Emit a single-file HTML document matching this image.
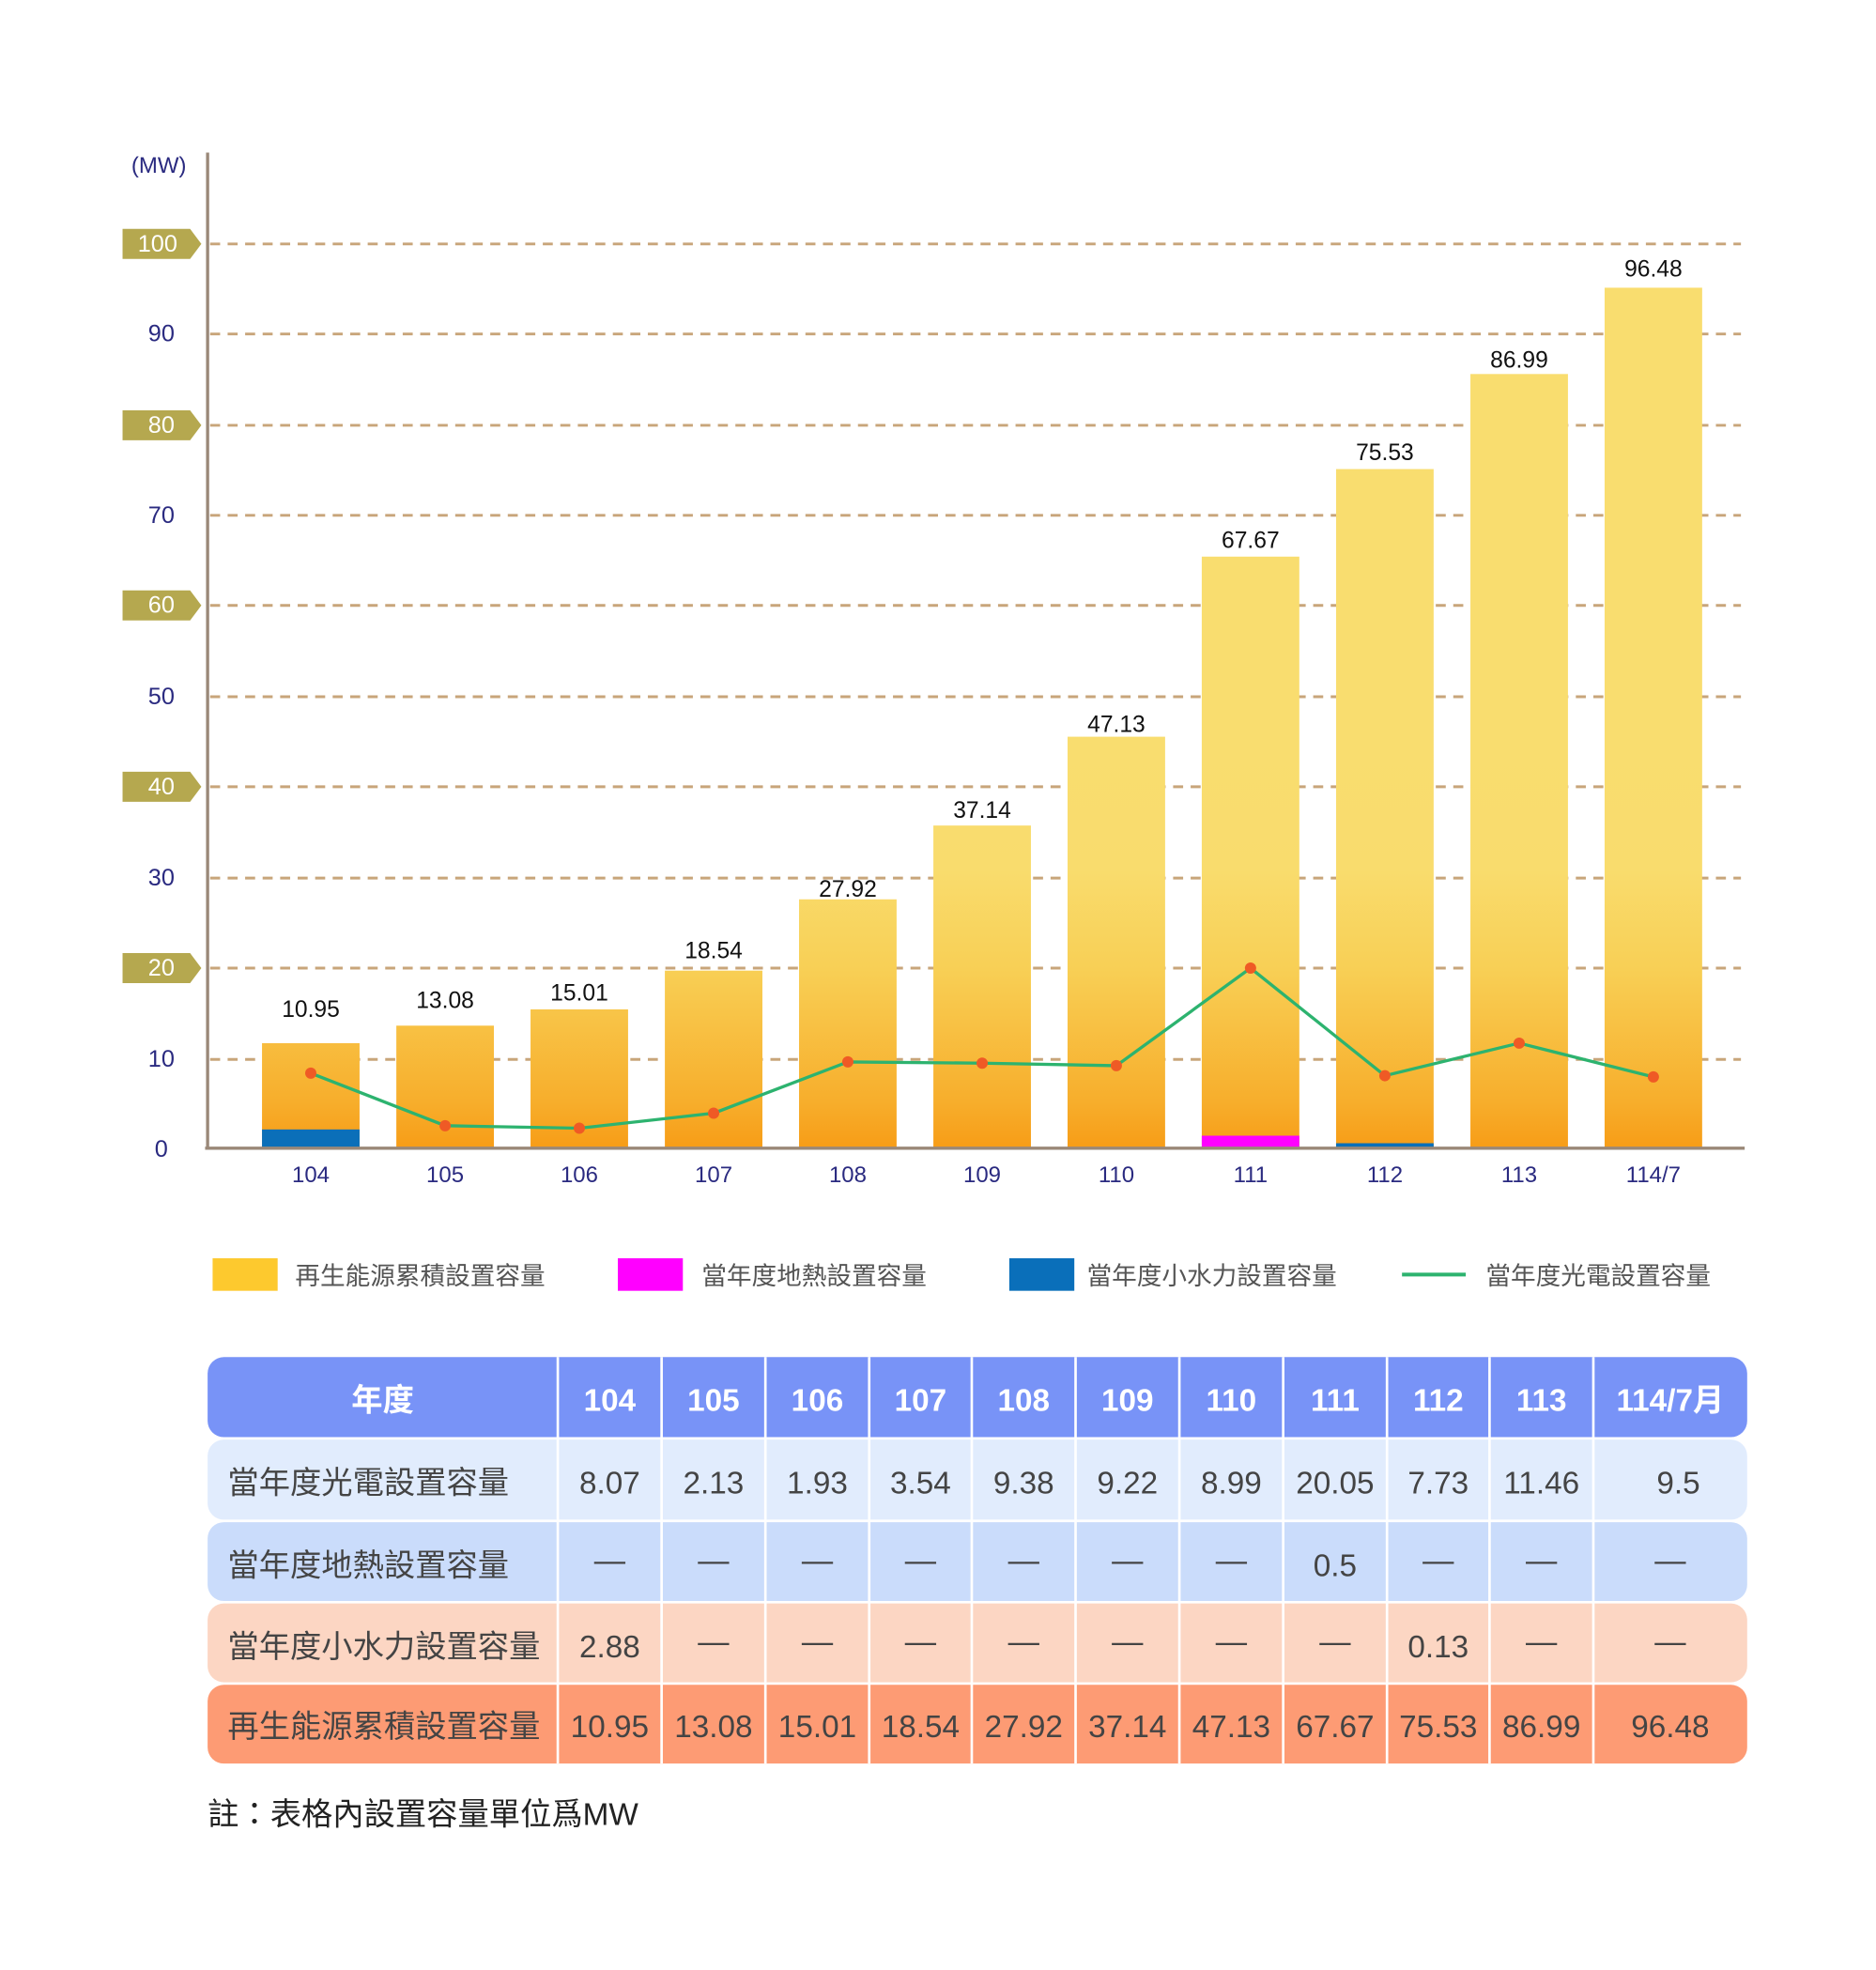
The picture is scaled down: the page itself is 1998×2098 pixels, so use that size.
<!DOCTYPE html>
<html><head><meta charset="utf-8"><style>
html,body{margin:0;padding:0;background:#fff;}
svg{display:block;}
</style></head><body>
<svg width="1998" height="2098" viewBox="0 0 1500 1575" xmlns="http://www.w3.org/2000/svg">
<defs>
<linearGradient id="bg" gradientUnits="userSpaceOnUse" x1="0" y1="919" x2="0" y2="600">
<stop offset="0" stop-color="#f79c16"/>
<stop offset="0.12" stop-color="#f7ae2c"/>
<stop offset="0.45" stop-color="#f8cf55"/>
<stop offset="0.7" stop-color="#f9dc6d"/>
<stop offset="1" stop-color="#f9dd6f"/>
</linearGradient>
</defs>
<g font-family="Liberation Sans, sans-serif">
<text x="127" y="138" font-size="18" fill="#2a2a80" text-anchor="middle">(MW)</text>
<g stroke="#c8a57a" stroke-width="2.2" stroke-dasharray="8,6">
<line x1="168" y1="195" x2="1392" y2="195"/>
<line x1="168" y1="267" x2="1392" y2="267"/>
<line x1="168" y1="340" x2="1392" y2="340"/>
<line x1="168" y1="412" x2="1392" y2="412"/>
<line x1="168" y1="484" x2="1392" y2="484"/>
<line x1="168" y1="557" x2="1392" y2="557"/>
<line x1="168" y1="629" x2="1392" y2="629"/>
<line x1="168" y1="702" x2="1392" y2="702"/>
<line x1="168" y1="774" x2="1392" y2="774"/>
<line x1="168" y1="847" x2="1392" y2="847"/>
</g>
<g fill="#b5a84f">
<polygon points="98,183 152,183 161,195 152,207 98,207"/>
<polygon points="98,328 152,328 161,340 152,352 98,352"/>
<polygon points="98,472 152,472 161,484 152,496 98,496"/>
<polygon points="98,617 152,617 161,629 152,641 98,641"/>
<polygon points="98,762 152,762 161,774 152,786 98,786"/>
</g>
<g font-size="19" text-anchor="middle">
<text x="126" y="201" fill="#fff">100</text>
<text x="129" y="273" fill="#2a2a80">90</text>
<text x="129" y="346" fill="#fff">80</text>
<text x="129" y="418" fill="#2a2a80">70</text>
<text x="129" y="490" fill="#fff">60</text>
<text x="129" y="563" fill="#2a2a80">50</text>
<text x="129" y="635" fill="#fff">40</text>
<text x="129" y="708" fill="#2a2a80">30</text>
<text x="129" y="780" fill="#fff">20</text>
<text x="129" y="853" fill="#2a2a80">10</text>
<text x="129" y="925" fill="#2a2a80">0</text>
</g>
<g fill="url(#bg)">
<rect x="209.5" y="834" width="78" height="85"/>
<rect x="316.9" y="820" width="78" height="99"/>
<rect x="424.2" y="807" width="78" height="112"/>
<rect x="531.6" y="776" width="78" height="143"/>
<rect x="638.9" y="719" width="78" height="200"/>
<rect x="746.3" y="660" width="78" height="259"/>
<rect x="853.6" y="589" width="78" height="330"/>
<rect x="960.9" y="445" width="78" height="474"/>
<rect x="1068.3" y="375" width="78" height="544"/>
<rect x="1175.7" y="299" width="78" height="620"/>
<rect x="1283" y="230" width="78" height="689"/>
</g>
<rect x="209.5" y="903" width="78" height="16" fill="#0b6fb9"/>
<rect x="1068.3" y="914" width="78" height="5" fill="#0b6fb9"/>
<rect x="960.9" y="908" width="78" height="11" fill="#ff00ff"/>
<line x1="166" y1="122" x2="166" y2="919" stroke="#9a8878" stroke-width="2.5"/>
<line x1="164" y1="918" x2="1395" y2="918" stroke="#9a8878" stroke-width="2.5"/>
<g font-size="18.5" text-anchor="middle" fill="#111">
<text x="248.5" y="813">10.95</text>
<text x="355.9" y="806">13.08</text>
<text x="463.2" y="800">15.01</text>
<text x="570.6" y="766">18.54</text>
<text x="677.9" y="717">27.92</text>
<text x="785.3" y="654">37.14</text>
<text x="892.6" y="585">47.13</text>
<text x="999.9" y="438">67.67</text>
<text x="1107.3" y="368">75.53</text>
<text x="1214.7" y="294">86.99</text>
<text x="1322" y="221">96.48</text>
</g>
<polyline fill="none" stroke="#2db36f" stroke-width="2.5" points="248.5,858 355.9,900 463.2,902 570.6,890 677.9,849 785.3,850 892.6,852 999.9,774 1107.3,860 1214.7,834 1322,861"/>
<g fill="#ef5a25">
<circle cx="248.5" cy="858" r="4.5"/><circle cx="355.9" cy="900" r="4.5"/><circle cx="463.2" cy="902" r="4.5"/><circle cx="570.6" cy="890" r="4.5"/><circle cx="677.9" cy="849" r="4.5"/><circle cx="785.3" cy="850" r="4.5"/><circle cx="892.6" cy="852" r="4.5"/><circle cx="999.9" cy="774" r="4.5"/><circle cx="1107.3" cy="860" r="4.5"/><circle cx="1214.7" cy="834" r="4.5"/><circle cx="1322" cy="861" r="4.5"/>
</g>
<g font-size="18" text-anchor="middle" fill="#2a2a80">
<text x="248.5" y="945">104</text><text x="355.9" y="945">105</text><text x="463.2" y="945">106</text><text x="570.6" y="945">107</text><text x="677.9" y="945">108</text><text x="785.3" y="945">109</text><text x="892.6" y="945">110</text><text x="999.9" y="945">111</text><text x="1107.3" y="945">112</text><text x="1214.7" y="945">113</text><text x="1322" y="945">114/7</text>
</g>
</g>
<g font-family="Liberation Sans, Noto Sans CJK TC, sans-serif" font-size="20" fill="#555">
<rect x="170" y="1006" width="52" height="26" fill="#fdc92e"/>
<text x="236" y="1027">再生能源累積設置容量</text>
<rect x="494" y="1006" width="52" height="26" fill="#ff00ff"/>
<text x="561" y="1027">當年度地熱設置容量</text>
<rect x="807" y="1006" width="52" height="26" fill="#0a6fba"/>
<text x="869" y="1027">當年度小水力設置容量</text>
<line x1="1121" y1="1019" x2="1172" y2="1019" stroke="#2db36f" stroke-width="3"/>
<text x="1188" y="1027">當年度光電設置容量</text>
</g>
<g>
<rect x="166" y="1085" width="1231" height="64" rx="13" fill="#7893f7"/>
<rect x="166" y="1151" width="1231" height="64" rx="13" fill="#e1ecfd"/>
<rect x="166" y="1217" width="1231" height="63" rx="13" fill="#cadcfb"/>
<rect x="166" y="1282" width="1231" height="63" rx="13" fill="#fcd6c3"/>
<rect x="166" y="1347" width="1231" height="63" rx="13" fill="#fd9b74"/>
<g stroke="#fff" stroke-width="2">
<line x1="446" y1="1085" x2="446" y2="1410"/><line x1="529" y1="1085" x2="529" y2="1410"/><line x1="612" y1="1085" x2="612" y2="1410"/><line x1="695" y1="1085" x2="695" y2="1410"/><line x1="777" y1="1085" x2="777" y2="1410"/><line x1="860" y1="1085" x2="860" y2="1410"/><line x1="943" y1="1085" x2="943" y2="1410"/><line x1="1026" y1="1085" x2="1026" y2="1410"/><line x1="1109" y1="1085" x2="1109" y2="1410"/><line x1="1191" y1="1085" x2="1191" y2="1410"/><line x1="1274" y1="1085" x2="1274" y2="1410"/>
</g>
</g>
<g font-family="Liberation Sans, Noto Sans CJK TC, sans-serif" text-anchor="middle">
<g font-size="25" font-weight="bold" fill="#fff">
<text x="306" y="1128">年度</text>
<text x="487.5" y="1128">104</text><text x="570.5" y="1128">105</text><text x="653.5" y="1128">106</text><text x="736" y="1128">107</text><text x="818.5" y="1128">108</text><text x="901.5" y="1128">109</text><text x="984.5" y="1128">110</text><text x="1067.5" y="1128">111</text><text x="1150" y="1128">112</text><text x="1232.5" y="1128">113</text><text x="1335.5" y="1128">114/7月</text>
</g>
<g font-size="25" fill="#444">
<text x="182" y="1194" text-anchor="start">當年度光電設置容量</text>
<text x="487.5" y="1194">8.07</text><text x="570.5" y="1194">2.13</text><text x="653.5" y="1194">1.93</text><text x="736" y="1194">3.54</text><text x="818.5" y="1194">9.38</text><text x="901.5" y="1194">9.22</text><text x="984.5" y="1194">8.99</text><text x="1067.5" y="1194">20.05</text><text x="1150" y="1194">7.73</text><text x="1232.5" y="1194">11.46</text><text x="1342" y="1194">9.5</text>
<text x="182" y="1260" text-anchor="start">當年度地熱設置容量</text>
<text x="487.5" y="1256">—</text><text x="570.5" y="1256">—</text><text x="653.5" y="1256">—</text><text x="736" y="1256">—</text><text x="818.5" y="1256">—</text><text x="901.5" y="1256">—</text><text x="984.5" y="1256">—</text><text x="1067.5" y="1260">0.5</text><text x="1150" y="1256">—</text><text x="1232.5" y="1256">—</text><text x="1335.5" y="1256">—</text>
<text x="182" y="1325" text-anchor="start">當年度小水力設置容量</text>
<text x="487.5" y="1325">2.88</text><text x="570.5" y="1321">—</text><text x="653.5" y="1321">—</text><text x="736" y="1321">—</text><text x="818.5" y="1321">—</text><text x="901.5" y="1321">—</text><text x="984.5" y="1321">—</text><text x="1067.5" y="1321">—</text><text x="1150" y="1325">0.13</text><text x="1232.5" y="1321">—</text><text x="1335.5" y="1321">—</text>
<text x="182" y="1389" text-anchor="start">再生能源累積設置容量</text>
<text x="487.5" y="1389">10.95</text><text x="570.5" y="1389">13.08</text><text x="653.5" y="1389">15.01</text><text x="736" y="1389">18.54</text><text x="818.5" y="1389">27.92</text><text x="901.5" y="1389">37.14</text><text x="984.5" y="1389">47.13</text><text x="1067.5" y="1389">67.67</text><text x="1150" y="1389">75.53</text><text x="1232.5" y="1389">86.99</text><text x="1335.5" y="1389">96.48</text>
</g>
<text x="166" y="1459" text-anchor="start" font-size="25" fill="#222">註：表格內設置容量單位爲MW</text>
</g>
</svg>
</body></html>
